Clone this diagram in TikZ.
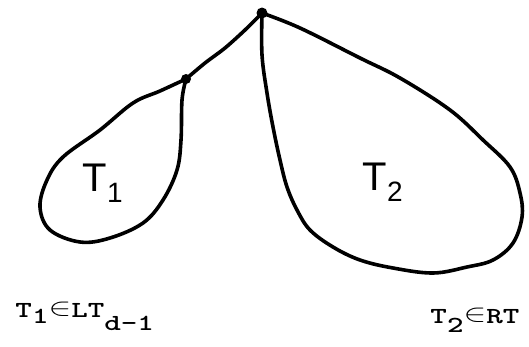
\documentclass[tikz,border=0pt]{standalone}
\usepackage{fontspec}
\newfontfamily\handfont{Liberation Sans}
\begin{document}
\begin{tikzpicture}[x=1pt,y=-1pt,
  line width=3.6pt, line join=round, line cap=round,
  dotnode/.style={circle,fill,inner sep=0pt,minimum size=11pt},
  hand/.style={font=\handfont\fontsize{40}{40}\selectfont, inner sep=0pt},
  typed/.style={font=\ttfamily\bfseries\fontsize{23}{23}\selectfont, xscale=1.37, inner sep=0pt, anchor=base west}]
\useasboundingbox (0,0) rectangle (529,346);
\node[dotnode] (root) at (262,13) {};
\node[dotnode, minimum size=10pt] (child) at (186,79) {};
% edge root -- child
\draw plot[smooth, tension=0.5] coordinates {(root.center) (245,30) (225,48) (205,63) (child.center)};
% left subtree T1
\draw plot[smooth, tension=0.6] coordinates {(child.center) (160,91) (133,103) (100,130) (63,157) (47,180) (40,207) (50,230) (80,242) (110,238) (143,223) (163,200) (177,170) (181,140) (182,100) (child.center)};
% right subtree T2
\draw plot[smooth, tension=0.6] coordinates {(root.center) (300,28) (360,58) (400,78) (450,110) (483,140) (510,167) (520,193) (522,217) (513,243) (493,260) (467,267) (433,273) (393,268) (360,260) (333,247) (310,230) (297,210) (287,187) (280,160) (273,127) (267,93) (262,55) (root.center)};
\node[hand] (t1) at (103,183) {T\textsubscript{1}};
\node[hand] (t2) at (383,182) {T\textsubscript{2}};
\node[typed] (lab1) at (13,317) {T\raisebox{-6pt}{1}\raisebox{2pt}{$\in$}LT\raisebox{-13pt}{d-1}};
\node[typed] (lab2) at (428,323) {T\raisebox{-9pt}{2}\raisebox{2pt}{$\in$}RT};
\end{tikzpicture}
\end{document}
